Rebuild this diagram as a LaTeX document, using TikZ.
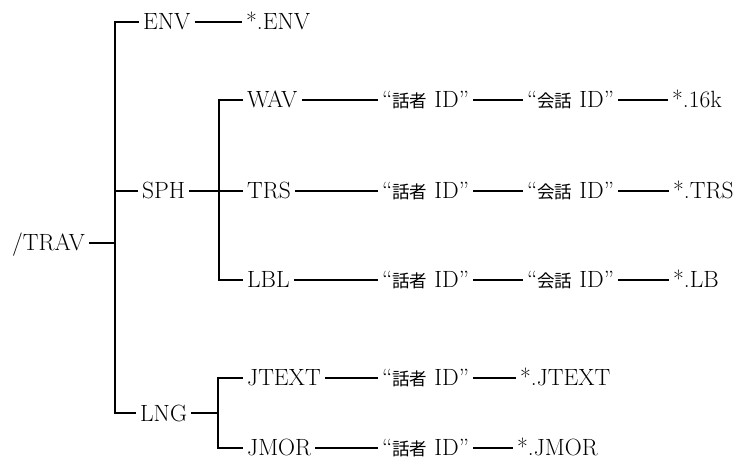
\documentclass[tikz,border=0pt]{standalone}
\usepackage{fontspec}
\newfontfamily\cjk{Noto Sans CJK JP}
\newcommand\jsz{\cjk\fontsize{17.5}{20}\selectfont}
\newcommand\spkid{“{\jsz 話者} ID”}
\newcommand\cnvid{“{\jsz 会話} ID”}
\begin{document}
\begin{tikzpicture}[x=1pt,y=-1pt,
  item/.style={anchor=west, inner xsep=4pt, inner ysep=0pt, text height=16pt, text depth=0pt, font=\fontsize{23.5}{28}\selectfont},
  conn/.style={line width=1.1pt}]
\useasboundingbox (0,0) rectangle (740,465);
% rows
\node[item] (trav) at (8,243) {/TRAV};
\node[item] (env) at (139,22) {ENV};
\node[item] (envf) at (242,22) {*.ENV};
\node[item] (sph) at (138,191) {SPH};
\node[item] (lng) at (136,413) {LNG};
% WAV
\node[item] (wav) at (243,100) {WAV};
\node[item] (wavs) at (378,100) {\spkid};
\node[item] (wavc) at (523,100) {\cnvid};
\node[item] (wavf) at (668,100) {*.16k};
% TRS
\node[item] (trs) at (243,191) {TRS};
\node[item] (trss) at (378,191) {\spkid};
\node[item] (trsc) at (523,191) {\cnvid};
\node[item] (trsf) at (669,191) {*.TRS};
% LBL
\node[item] (lbl) at (243,280) {LBL};
\node[item] (lbls) at (378,280) {\spkid};
\node[item] (lblc) at (523,280) {\cnvid};
\node[item] (lblf) at (669,280) {*.LB};
% JTEXT
\node[item] (jtext) at (243,378) {JTEXT};
\node[item] (jtexts) at (378,378) {\spkid};
\node[item] (jtextf) at (516,378) {*.JTEXT};
% JMOR
\node[item] (jmor) at (243,448) {JMOR};
\node[item] (jmors) at (378,448) {\spkid};
\node[item] (jmorf) at (513,448) {*.JMOR};
% tree coordinates
\coordinate (sx) at (115,243);
\coordinate (sy) at (219,191);
\coordinate (ly) at (218,413);
% main spine
\draw[conn] (env.west) -| (sx) |- (lng.west);
\draw[conn] (trav.east) -- (sx);
\draw[conn] (sph.west) -- (sph.west -| sx);
\draw[conn] (env.east) -- (envf.west);
% SPH branch
\draw[conn] (wav.west) -| (sy) |- (lbl.west);
\draw[conn] (sph.east) -- (trs.west);
% LNG branch
\draw[conn] (jtext.west) -| (ly) |- (jmor.west);
\draw[conn] (lng.east) -- (ly);
% row chains
\draw[conn] (wav.east) -- (wavs.west);
\draw[conn] (wavs.east) -- (wavc.west);
\draw[conn] (wavc.east) -- (wavf.west);
\draw[conn] (trs.east) -- (trss.west);
\draw[conn] (trss.east) -- (trsc.west);
\draw[conn] (trsc.east) -- (trsf.west);
\draw[conn] (lbl.east) -- (lbls.west);
\draw[conn] (lbls.east) -- (lblc.west);
\draw[conn] (lblc.east) -- (lblf.west);
\draw[conn] (jtext.east) -- (jtexts.west);
\draw[conn] (jtexts.east) -- (jtextf.west);
\draw[conn] (jmor.east) -- (jmors.west);
\draw[conn] (jmors.east) -- (jmorf.west);
\end{tikzpicture}
\end{document}
